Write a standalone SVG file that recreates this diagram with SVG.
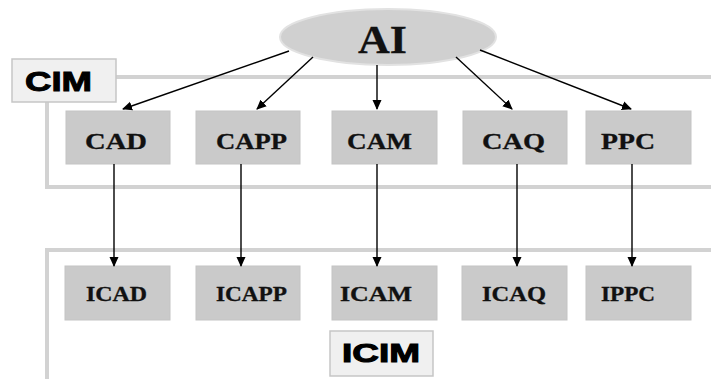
<svg xmlns="http://www.w3.org/2000/svg" width="711" height="379" viewBox="0 0 711 379">
  <defs>
    <marker id="arrow" markerWidth="10" markerHeight="10" refX="9" refY="5" orient="auto" markerUnits="userSpaceOnUse">
      <path d="M0,0.5 L10,5 L0,9.5 Z" fill="#000"/>
    </marker>
  </defs>
  <style>
    .frame { fill: none; stroke: #d2d2d2; stroke-width: 4; }
    .box { fill: #cacaca; stroke: #c4c4c4; stroke-width: 1; }
    .label-box { fill: #f0f0f0; stroke: #c6c6c6; stroke-width: 1.5; }
    .serif { font-family: "Liberation Serif", "Times New Roman", serif; font-weight: bold; fill: #111; stroke: #111; stroke-width: 0.3; }
    .sans { font-family: "Liberation Sans", Arial, sans-serif; font-weight: bold; fill: #000; stroke: #000; stroke-width: 1; }
    .top { font-size: 23px; }
    .low { font-size: 20px; }
    .conn { stroke: #000; stroke-width: 1.4; fill: none; marker-end: url(#arrow); }
  </style>
  <rect width="711" height="379" fill="#fff"/>

  <!-- system frames -->
  <g id="frames">
    <rect class="frame" x="47" y="77" width="680" height="110"/>
    <rect class="frame" x="47" y="250" width="680" height="150"/>
  </g>

  <g id="cim-label">
    <rect class="label-box" x="12" y="59" width="104" height="43"/>
    <text class="sans" x="25" y="91" font-size="28" textLength="67" lengthAdjust="spacingAndGlyphs">CIM</text>
  </g>

  <g id="icim-label">
    <rect class="label-box" x="330" y="331" width="103" height="45"/>
    <text class="sans" x="342" y="362" font-size="25" textLength="78" lengthAdjust="spacingAndGlyphs">ICIM</text>
  </g>

  <!-- AI source node -->
  <g id="ai">
    <ellipse cx="388" cy="37" rx="108" ry="28" fill="#d0d0d0" stroke="#e2e2e2" stroke-width="2"/>
    <text class="serif" x="358" y="53" font-size="41" textLength="49" lengthAdjust="spacingAndGlyphs">AI</text>
  </g>

  <!-- CIM components -->
  <g id="cad">
    <rect class="box" x="66" y="111" width="104" height="53"/>
    <text class="serif top" x="85" y="149" textLength="62" lengthAdjust="spacingAndGlyphs">CAD</text>
  </g>
  <g id="capp">
    <rect class="box" x="196" y="111" width="104" height="53"/>
    <text class="serif top" x="216" y="149" textLength="71" lengthAdjust="spacingAndGlyphs">CAPP</text>
  </g>
  <g id="cam">
    <rect class="box" x="332" y="111" width="105" height="53"/>
    <text class="serif top" x="347" y="149" textLength="65" lengthAdjust="spacingAndGlyphs">CAM</text>
  </g>
  <g id="caq">
    <rect class="box" x="463" y="111" width="104" height="53"/>
    <text class="serif top" x="482" y="149" textLength="63" lengthAdjust="spacingAndGlyphs">CAQ</text>
  </g>
  <g id="ppc">
    <rect class="box" x="586" y="111" width="105" height="53"/>
    <text class="serif top" x="601" y="149" textLength="54" lengthAdjust="spacingAndGlyphs">PPC</text>
  </g>

  <!-- intelligent components -->
  <g id="icad">
    <rect class="box" x="65" y="266" width="105" height="54"/>
    <text class="serif low" x="86" y="301" textLength="61" lengthAdjust="spacingAndGlyphs">ICAD</text>
  </g>
  <g id="icapp">
    <rect class="box" x="196" y="266" width="104" height="54"/>
    <text class="serif low" x="216" y="301" textLength="71" lengthAdjust="spacingAndGlyphs">ICAPP</text>
  </g>
  <g id="icam">
    <rect class="box" x="332" y="266" width="105" height="54"/>
    <text class="serif low" x="340" y="301" textLength="72" lengthAdjust="spacingAndGlyphs">ICAM</text>
  </g>
  <g id="icaq">
    <rect class="box" x="462" y="266" width="105" height="54"/>
    <text class="serif low" x="482" y="301" textLength="64" lengthAdjust="spacingAndGlyphs">ICAQ</text>
  </g>
  <g id="ippc">
    <rect class="box" x="586" y="266" width="105" height="54"/>
    <text class="serif low" x="601" y="301" textLength="54" lengthAdjust="spacingAndGlyphs">IPPC</text>
  </g>

  <!-- connectors -->
  <g id="connectors">
    <line class="conn" x1="289" y1="51" x2="123" y2="109"/>
    <line class="conn" x1="313" y1="57" x2="257" y2="109"/>
    <line class="conn" x1="377" y1="65" x2="377" y2="109"/>
    <line class="conn" x1="456" y1="57" x2="512" y2="109"/>
    <line class="conn" x1="480" y1="50" x2="631" y2="109"/>
    <line class="conn" x1="114" y1="164" x2="114" y2="266"/>
    <line class="conn" x1="241" y1="164" x2="241" y2="266"/>
    <line class="conn" x1="377" y1="164" x2="377" y2="266"/>
    <line class="conn" x1="517" y1="164" x2="517" y2="266"/>
    <line class="conn" x1="632" y1="164" x2="632" y2="266"/>
  </g>
</svg>
